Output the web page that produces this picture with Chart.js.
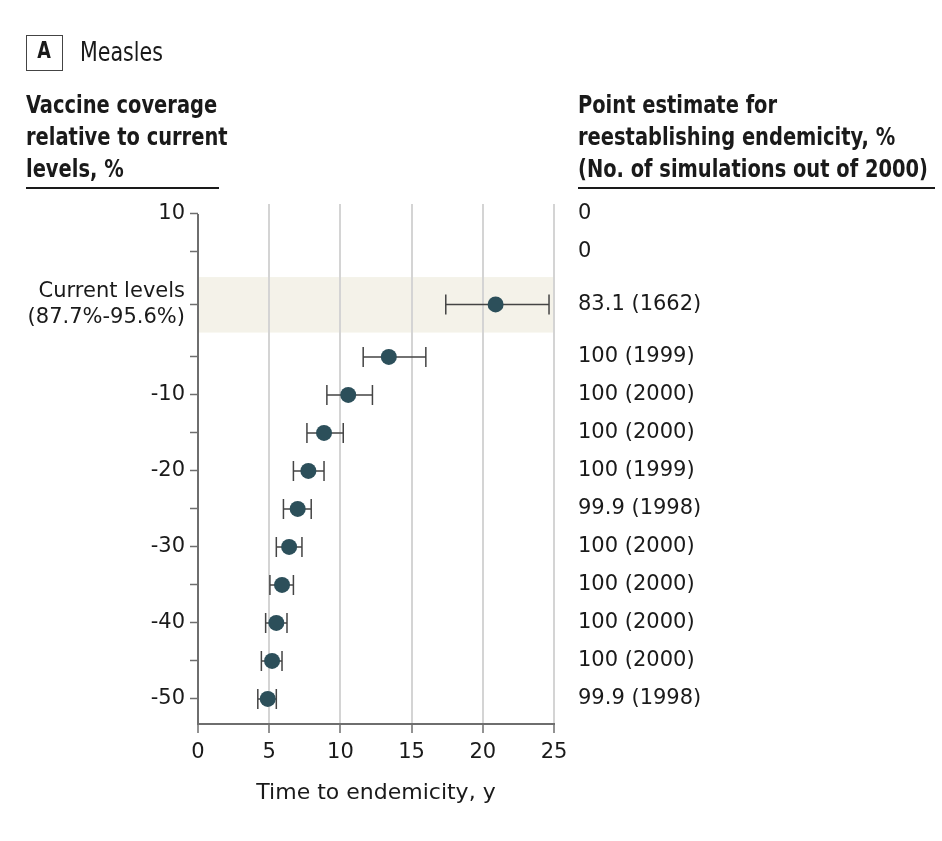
<!DOCTYPE html>
<html>
<head>
<meta charset="utf-8">
<script src="https://cdn.jsdelivr.net/npm/chart.js@4.4.1/dist/chart.umd.min.js"></script>
<style>
  body { margin: 0; background: #fff; }
  #wrap { position: relative; width: 942px; height: 841px; }
  #grafico { position: absolute; left: 0; top: 0; }
  .hd { position: absolute; font-family: "DejaVu Sans Condensed", "DejaVu Sans", sans-serif; color: #1a1a1a;
        white-space: nowrap; transform-origin: 0 0; }
  .hd.b { font-weight: bold; font-size: 25px; line-height: 32px; transform: scaleX(0.865); }
  .rule { position: absolute; height: 2px; background: #1a1a1a; }
  #boxA { position: absolute; left: 26px; top: 35px; width: 35px; height: 34px; border: 1.5px solid #444;
          text-align: center; line-height: 34px; color: #1a1a1a; }
  #boxA span { display: inline-block; font: bold 23px "DejaVu Sans Condensed", "DejaVu Sans", sans-serif; transform: scaleX(0.85); }
</style>
</head>
<body>
<div id="wrap">
  <canvas id="grafico" width="942" height="841"></canvas>
  <div id="boxA"><span>A</span></div>
  <div class="hd" style="left:80px; top:36px; font-size:26px; line-height:32px; transform: scaleX(0.88);">Measles</div>
  <div class="hd b" style="left:26px; top:89px;">Vaccine coverage<br>relative to current<br>levels, %</div>
  <div class="rule" style="left:26px; top:187px; width:193px;"></div>
  <div class="hd b" style="left:578px; top:89px;">Point estimate for<br>reestablishing endemicity, %<br>(No. of simulations out of 2000)</div>
  <div class="rule" style="left:578px; top:187px; width:357px;"></div>
</div>
<script>
// filas: cobertura relativa al nivel actual
const coverage = ['10', '5', 'Current levels', '-5', '-10', '-15', '-20', '-25', '-30', '-35', '-40', '-45', '-50'];
const yLabels = ['10', '', ['Current levels', '(87.7%-95.6%)'], '', '-10', '', '-20', '', '-30', '', '-40', '', '-50'];
// tiempo a endemicidad (años)
const estimate = [null, null, 20.9, 13.4, 10.55, 8.85, 7.75, 7.0, 6.4, 5.9, 5.5, 5.2, 4.9];
const ciLow = [null, null, 17.4, 11.6, 9.05, 7.65, 6.7, 6.0, 5.5, 5.05, 4.75, 4.45, 4.2];
const ciHigh = [null, null, 24.65, 16.0, 12.25, 10.2, 8.85, 7.95, 7.3, 6.7, 6.25, 5.9, 5.5];
const pctLabels = ['0', '0', '83.1 (1662)', '100 (1999)', '100 (2000)', '100 (2000)', '100 (1999)',
                   '99.9 (1998)', '100 (2000)', '100 (2000)', '100 (2000)', '100 (2000)', '99.9 (1998)'];
const xTicks = [0, 5, 10, 15, 20, 25];

const CURRENT = 2;

// posición de cada fila (hueco extra alrededor de "Current levels")
function rowPos(i) {
    if (i < CURRENT) return i;
    if (i === CURRENT) return i + 0.38;
    return i + 0.76;
}

const points = [];
estimate.forEach((v, i) => { if (v !== null) points.push({ x: v, y: rowPos(i), i: i }); });

const tickFont = { family: '"DejaVu Sans", sans-serif', size: 21, lineHeight: 1.25 };
const axisGray = '#6e6e6e';

const bandPlugin = {
    id: 'band',
    beforeDraw(chart) {
        const { ctx, chartArea, scales } = chart;
        const y0 = scales.y.getPixelForValue(rowPos(CURRENT) - 0.72);
        const y1 = scales.y.getPixelForValue(rowPos(CURRENT) + 0.74);
        ctx.save();
        ctx.fillStyle = '#f4f2e9';
        ctx.fillRect(chartArea.left, y0, chartArea.right - chartArea.left, y1 - y0);
        ctx.restore();
    }
};

const errorBars = {
    id: 'errorBars',
    beforeDatasetsDraw(chart) {
        const { ctx, scales } = chart;
        ctx.save();
        ctx.strokeStyle = '#444';
        ctx.lineWidth = 1.5;
        points.forEach(p => {
            const y = scales.y.getPixelForValue(p.y);
            const xl = scales.x.getPixelForValue(ciLow[p.i]);
            const xh = scales.x.getPixelForValue(ciHigh[p.i]);
            ctx.beginPath();
            ctx.moveTo(xl, y); ctx.lineTo(xh, y);
            ctx.moveTo(xl, y - 10); ctx.lineTo(xl, y + 10);
            ctx.moveTo(xh, y - 10); ctx.lineTo(xh, y + 10);
            ctx.stroke();
        });
        // eje y: empieza en la primera fila
        const left = chart.chartArea.left;
        ctx.strokeStyle = axisGray;
        ctx.lineWidth = 2;
        ctx.beginPath();
        ctx.moveTo(left, scales.y.getPixelForValue(rowPos(0)));
        ctx.lineTo(left, chart.chartArea.bottom);
        ctx.stroke();
        ctx.restore();
    }
};

const yCommon = {
    type: 'linear',
    reverse: true,
    min: -0.263,
    max: 13.42,
    afterBuildTicks(scale) {
        scale.ticks = coverage.map((c, i) => ({ value: rowPos(i) }));
    }
};

const ctx = document.getElementById('grafico');
const myChart = new Chart(ctx, {
    type: 'scatter',
    data: {
        datasets: [{
            label: 'Time to endemicity',
            data: points,
            backgroundColor: '#2c4f5a',
            borderWidth: 0,
            pointRadius: 8,
            pointHoverRadius: 8,
            clip: false
        }]
    },
    options: {
        responsive: false,
        animation: false,
        devicePixelRatio: 1,
        layout: { padding: { top: 204, left: 0, right: 0, bottom: 0 } },
        plugins: { legend: { display: false }, tooltip: { enabled: false } },
        scales: {
            x: {
                type: 'linear',
                min: 0,
                max: 25,
                afterBuildTicks(scale) { scale.ticks = xTicks.map(v => ({ value: v })); },
                afterFit(scale) { scale.height = 117; },
                grid: {
                    color: c => c.tick && c.tick.value === 0 ? 'rgba(0,0,0,0)' : '#d4d4d4',
                    lineWidth: 2,
                    tickColor: axisGray,
                    tickLength: 9,
                    tickWidth: 1.5
                },
                border: { display: true, color: axisGray, width: 2 },
                ticks: { font: tickFont, color: '#1a1a1a', padding: 6, autoSkip: false, maxRotation: 0 },
                title: {
                    display: true,
                    text: 'Time to endemicity, y',
                    font: { family: '"DejaVu Sans", sans-serif', size: 22, lineHeight: 1.2 },
                    color: '#1a1a1a',
                    padding: { top: 0, bottom: 35 }
                }
            },
            y: Object.assign({}, yCommon, {
                position: 'left',
                afterFit(scale) { scale.width = 198; },
                grid: { drawOnChartArea: false, tickColor: axisGray, tickLength: 8, tickWidth: 1.5 },
                border: { display: false },
                ticks: {
                    font: tickFont, color: '#1a1a1a', padding: 5, autoSkip: false,
                    callback: (v, idx) => yLabels[idx]
                }
            }),
            y2: Object.assign({}, yCommon, {
                position: 'right',
                afterFit(scale) { scale.width = 942 - 554; },
                grid: { display: false, drawTicks: false },
                border: { display: false },
                ticks: {
                    font: tickFont, color: '#1a1a1a', padding: 24, autoSkip: false,
                    callback: (v, idx) => pctLabels[idx]
                }
            })
        }
    },
    plugins: [bandPlugin, errorBars]
});
</script>
</body>
</html>
